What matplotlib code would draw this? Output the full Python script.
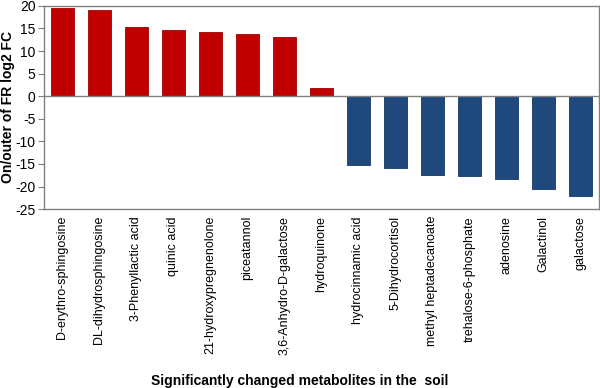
import matplotlib
matplotlib.use("Agg")
import matplotlib.pyplot as plt

# Metaboliti in log2 FC (odčitano z grafa)
metabolites = [
    "D-erythro-sphingosine", "DL-dihydrosphingosine", "3-Phenyllactic acid",
    "quinic acid", "21-hydroxypregnenolone", "piceatannol",
    "3,6-Anhydro-D-galactose", "hydroquinone", "hydrocinnamic acid",
    "5-Dihydrocortisol", "methyl heptadecanoate", "trehalose-6-phosphate",
    "adenosine", "Galactinol", "galactose",
]
log2_fc = [19.5, 19.0, 15.3, 14.6, 14.2, 13.7, 13.1, 1.8,
           -15.2, -15.8, -17.4, -17.6, -18.3, -20.5, -22.0]
y_ticks = [-25, -20, -15, -10, -5, 0, 5, 10, 15, 20]

plt.rcParams["font.family"] = ["Liberation Sans", "DejaVu Sans"]

fig = plt.figure(figsize=(6, 3.88), dpi=100)
ax = fig.add_axes([0.073, 0.461, 0.925, 0.524])

colors = ["#C00000" if v > 0 else "#1F497D" for v in log2_fc]
edges = ["#A00000" if v > 0 else "#173A63" for v in log2_fc]
x = range(len(metabolites))
ax.bar(x, log2_fc, width=0.62, color=colors, edgecolor=edges, linewidth=0.6, zorder=2)
ax.axhline(0, color="#808080", linewidth=1.0, zorder=3)

ax.set_xlim(-0.5, len(metabolites) - 0.5)
ax.set_ylim(-25, 20)
ax.set_yticks(y_ticks)
ax.set_yticklabels([str(t) for t in y_ticks], fontsize=10)
ax.set_xticks(list(x))
ax.set_xticklabels(metabolites, rotation=90, fontsize=9)
ax.tick_params(axis="x", length=0, pad=5)
ax.tick_params(axis="y", length=4, color="#808080", pad=2)

for s in ax.spines.values():
    s.set_color("#808080")
    s.set_linewidth(1.0)

fig.text(8 / 600, 1 - 107 / 388, "On/outer of FR log2 FC", rotation=90,
         ha="center", va="center", fontsize=10, fontweight="bold")
fig.text(0.5, 1 - 381 / 388, "Significantly changed metabolites in the  soil",
         ha="center", va="center", fontsize=10, fontweight="bold")

fig.savefig("out.png", dpi=100)
